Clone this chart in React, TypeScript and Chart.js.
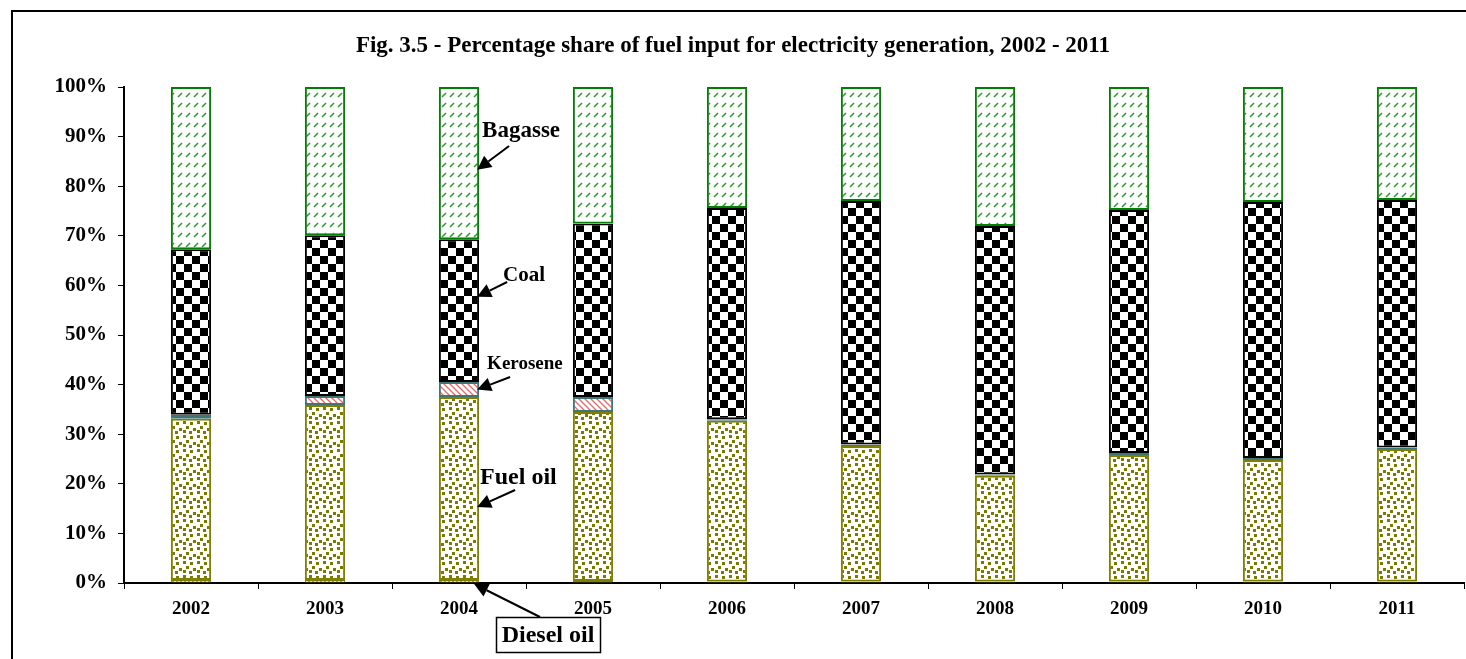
import React, { useEffect, useRef } from "react";
import { Chart, registerables } from "chart.js";

Chart.register(...registerables);

const years = ["2002", "2003", "2004", "2005", "2006", "2007", "2008", "2009", "2010", "2011"];
const dieselOil = [0.6, 0.6, 0.6, 0.4, 0.3, 0.3, 0.3, 0.3, 0.3, 0.3];
const fuelOil = [32.5, 35.3, 36.9, 34.1, 32.4, 27.3, 21.3, 25.5, 24.5, 26.7];
const kerosene = [0.8, 1.8, 3.0, 3.0, 0.3, 0.3, 0.3, 0.4, 0.4, 0.3];
const coal = [33.4, 32.4, 28.8, 35.0, 42.6, 49.1, 50.1, 49.0, 51.6, 49.9];
const bagasse = [32.7, 29.9, 30.7, 27.5, 24.4, 23.0, 28.0, 24.8, 23.2, 22.8];
const yTicks = [0, 10, 20, 30, 40, 50, 60, 70, 80, 90, 100];

const TITLE = "Fig. 3.5 - Percentage share of fuel input for electricity generation, 2002 - 2011";
const SERIF = "'Liberation Serif', 'Times New Roman', serif";

function makePattern(w: number, h: number, draw: (c: CanvasRenderingContext2D) => void) {
  const cv = document.createElement("canvas");
  cv.width = w;
  cv.height = h;
  const c = cv.getContext("2d")!;
  c.fillStyle = "#ffffff";
  c.fillRect(0, 0, w, h);
  draw(c);
  return c.createPattern(cv, "repeat")!;
}

function arrow(ctx: CanvasRenderingContext2D, x1: number, y1: number, x2: number, y2: number) {
  const ang = Math.atan2(y2 - y1, x2 - x1);
  const hl = 14, hw = 7;
  const bx = x2 - hl * Math.cos(ang), by = y2 - hl * Math.sin(ang);
  ctx.beginPath();
  ctx.moveTo(x1, y1);
  ctx.lineTo(bx, by);
  ctx.strokeStyle = "#000";
  ctx.lineWidth = 2;
  ctx.stroke();
  ctx.beginPath();
  ctx.moveTo(x2, y2);
  ctx.lineTo(bx + hw * Math.sin(ang), by - hw * Math.cos(ang));
  ctx.lineTo(bx - hw * Math.sin(ang), by + hw * Math.cos(ang));
  ctx.closePath();
  ctx.fillStyle = "#000";
  ctx.fill();
}

const decorPlugin = {
  id: "decor",
  afterDraw(chart: any) {
    const ctx = chart.ctx as CanvasRenderingContext2D;
    const ys = chart.scales.y;
    ctx.save();
    ctx.strokeStyle = "#000";
    ctx.lineWidth = 2;
    ctx.beginPath();
    ctx.moveTo(12, 700);
    ctx.lineTo(12, 11);
    ctx.lineTo(1480, 11);
    ctx.stroke();
    ctx.fillStyle = "#000";
    ctx.font = `bold 23px ${SERIF}`;
    ctx.textAlign = "center";
    ctx.textBaseline = "middle";
    ctx.fillText(TITLE, 733, 46);

    const bar = chart.getDatasetMeta(1).data[2];
    const tipX = bar.x + bar.width / 2 - 2;
    const lab = (t: string, size: number, x: number, y: number) => {
      ctx.font = `bold ${size}px ${SERIF}`;
      ctx.textAlign = "left";
      ctx.textBaseline = "middle";
      ctx.fillStyle = "#000";
      ctx.fillText(t, x, y);
    };
    lab("Bagasse", 23, tipX + 5, 131);
    arrow(ctx, tipX + 32, 146, tipX, ys.getPixelForValue(83.3));
    lab("Coal", 21, tipX + 26, 276);
    arrow(ctx, tipX + 30, 282, tipX, ys.getPixelForValue(57.7));
    lab("Kerosene", 19, tipX + 10, 364);
    arrow(ctx, tipX + 33, 377, tipX, ys.getPixelForValue(39.0));
    lab("Fuel oil", 24, tipX + 3, 478);
    arrow(ctx, tipX + 38, 490, tipX, ys.getPixelForValue(15.3));
    const dX = tipX - 3, dY = ys.getPixelForValue(0) + 1;
    ctx.lineWidth = 1.5;
    ctx.strokeStyle = "#000";
    ctx.fillStyle = "#fff";
    ctx.fillRect(496, 617, 104, 35);
    ctx.strokeRect(496.5, 617.5, 104, 35);
    arrow(ctx, 540, 617, dX, dY);
    ctx.font = `bold 24px ${SERIF}`;
    ctx.fillStyle = "#000";
    ctx.textAlign = "center";
    ctx.textBaseline = "middle";
    ctx.fillText("Diesel oil", 548, 636);
    ctx.restore();
  },
};

export default function App() {
  const ref = useRef<HTMLCanvasElement>(null);
  useEffect(() => {
    const fuelPat = makePattern(14, 14, (c) => {
      c.fillStyle = "#7a7a00";
      const pts = [[1, 1], [8, 2], [4, 6], [11, 8], [1, 10], [7, 11]];
      pts.forEach(([x, y]) => c.fillRect(x, y, 3, 3));
    });
    const coalPat = makePattern(16, 16, (c) => {
      c.fillStyle = "#000";
      c.fillRect(0, 0, 8, 8);
      c.fillRect(8, 8, 8, 8);
    });
    const bagPat = makePattern(8, 10, (c) => {
      c.strokeStyle = "#2e9e2e";
      c.lineWidth = 1.6;
      c.beginPath();
      c.moveTo(2, 7);
      c.lineTo(6, 3);
      c.stroke();
    });
    const kerPat = makePattern(6, 6, (c) => {
      c.strokeStyle = "#e06a6a";
      c.lineWidth = 1.3;
      c.beginPath();
      c.moveTo(-1, -1);
      c.lineTo(7, 7);
      c.moveTo(-4, 2);
      c.lineTo(4, 10);
      c.moveTo(2, -4);
      c.lineTo(10, 4);
      c.stroke();
    });
    const dieselPat = makePattern(4, 4, (c) => {
      c.fillStyle = "#808000";
      c.fillRect(0, 0, 2, 2);
    });
    const common = { barPercentage: 0.3, categoryPercentage: 1, borderWidth: 2, borderSkipped: false as const };
    const tickFont = { family: SERIF, weight: "bold" as const };
    const chart = new Chart(ref.current!, {
      type: "bar",
      data: {
        labels: years,
        datasets: [
          { label: "Diesel oil", data: dieselOil, backgroundColor: dieselPat, borderColor: "#808000", ...common, borderWidth: 1 },
          { label: "Fuel oil", data: fuelOil, backgroundColor: fuelPat, borderColor: "#808000", ...common },
          { label: "Kerosene", data: kerosene, backgroundColor: kerPat, borderColor: "#3f7575", ...common },
          { label: "Coal", data: coal, backgroundColor: coalPat, borderColor: "#000000", ...common },
          { label: "Bagasse", data: bagasse, backgroundColor: bagPat, borderColor: "#008000", ...common },
        ],
      },
      options: {
        responsive: false,
        animation: false,
        layout: { padding: { top: 87, right: 2, left: 0, bottom: 0 } },
        plugins: { legend: { display: false }, tooltip: { enabled: false }, title: { display: false } },
        scales: {
          x: {
            stacked: true,
            grid: { offset: true, drawOnChartArea: false, drawTicks: true, tickLength: 6, color: "#000", lineWidth: 1 },
            border: { display: true, color: "#000", width: 2 },
            ticks: { color: "#000", font: { ...tickFont, size: 19 }, padding: 9, maxRotation: 0 },
            afterFit: (s: any) => { s.height = 76; },
          },
          y: {
            stacked: true,
            min: 0,
            max: 100,
            afterBuildTicks: (s: any) => { s.ticks = yTicks.map((v) => ({ value: v })); },
            ticks: { color: "#000", font: { ...tickFont, size: 21 }, padding: 11, callback: (v: any) => v + "%" },
            grid: { drawOnChartArea: false, drawTicks: true, tickLength: 6, color: "#000", lineWidth: 1 },
            border: { display: true, color: "#000", width: 2 },
            afterFit: (s: any) => { s.width = 124; },
          },
        },
      },
      plugins: [decorPlugin],
    });
    return () => chart.destroy();
  }, []);
  return (
    <div style={{ position: "fixed", left: 0, top: 0, width: 1466, height: 659, background: "#fff" }}>
      <canvas ref={ref} width={1466} height={659} style={{ display: "block" }} />
    </div>
  );
}
